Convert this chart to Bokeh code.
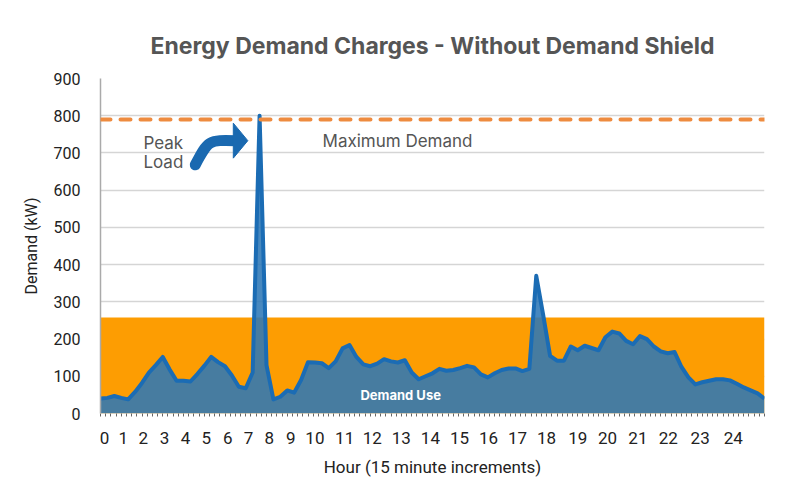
from bokeh.plotting import figure
from bokeh.models import Range1d, FixedTicker, Label, Span
from bokeh.embed import file_html
from bokeh.resources import INLINE
import numpy as np

# ---- data (15-minute intervals, 97 points) ----
demand_kw = [40, 42, 47, 42, 38, 58, 82, 110, 130, 152,
             118, 88, 88, 86, 106, 128, 152, 138, 127, 102,
             72, 68, 110, 800, 130, 38, 45, 62, 56, 90,
             138, 137, 135, 122, 140, 175, 184, 152, 132, 127,
             134, 146, 140, 137, 143, 110, 92, 100, 108, 120,
             115, 117, 122, 128, 124, 105, 97, 108, 117, 121,
             121, 114, 120, 370, 265, 155, 142, 142, 180, 170,
             182, 176, 170, 205, 220, 215, 195, 186, 208, 200,
             180, 167, 162, 165, 125, 97, 78, 84, 88, 92,
             92, 89, 80, 70, 62, 54, 40]
interval = list(range(len(demand_kw)))
demand_use_limit = 258
maximum_demand = 790
hour_labels = [str(h) for h in range(25)]
y_ticks = [0, 100, 200, 300, 400, 500, 600, 700, 800, 900]

# x tick positions (in interval units) where the hour labels sit
hour_label_pos = [0.6, 3.3, 6.2, 9.25, 12.3, 15.3, 18.4, 21.4, 24.4, 27.5,
                  31.0, 35.3, 39.3, 43.5, 47.7, 51.9, 56.1, 60.3, 64.5, 69.0,
                  73.3, 77.7, 82.1, 86.7, 91.5]

p = figure(width=800, height=500, output_backend="svg", toolbar_location=None,
           x_range=Range1d(0, len(demand_kw) - 1), y_range=Range1d(0, 900),
           min_border_left=100, min_border_right=36, min_border_top=78,
           min_border_bottom=87)
p.outline_line_color = None
p.background_fill_color = "white"

# title
p.title.text = "Energy Demand Charges - Without Demand Shield"
p.title.text_font = "Inter"
p.title.text_font_style = "bold"
p.title.text_font_size = "23px"
p.title.text_color = "#555555"
p.title.align = "center"
p.title.offset = -4
p.title.standoff = 37

# orange demand-use band
p.quad(left=[interval[0]], right=[interval[-1]], bottom=[0], top=[demand_use_limit],
       fill_color="#FD9D02", line_color=None)

# demand area and line
p.varea(x=interval, y1=[0] * len(demand_kw), y2=demand_kw,
        fill_color="#2D78B6", fill_alpha=0.88)
p.line(interval, demand_kw, line_color="#1B6CB4", line_width=4, line_join="round")

# maximum demand dashed line
p.add_layout(Span(location=maximum_demand, dimension="width", line_color="#EE8B3F",
                  line_width=4, line_dash="10 10", line_cap="round"))

# curved arrow
p.bezier(x0=[13.7], y0=[668], x1=[19.6], y1=[733], cx0=[15.6], cy0=[735],
         cx1=[15.6], cy1=[735], line_color="#1A69B0", line_width=11, line_cap="round")
p.patch([19.2, 21.3, 19.2], [780, 733, 686], fill_color="#1A69B0", line_color="#1A69B0")

# labels
p.add_layout(Label(x=6.2, y=728, text="Peak", text_font="Inter", text_font_size="17px",
                   text_color="#555555", text_baseline="middle"))
p.add_layout(Label(x=6.2, y=677, text="Load", text_font="Inter", text_font_size="17px",
                   text_color="#555555", text_baseline="middle"))
p.add_layout(Label(x=32.1, y=731, text="Maximum Demand", text_font="Inter",
                   text_font_size="17px", text_color="#555555", text_baseline="middle"))
p.add_layout(Label(x=43.4, y=51, text="Demand Use", text_font="Inter", text_font_style="bold",
                   text_font_size="13px", text_color="white", text_baseline="middle",
                   text_align="center"))

# grid
p.xgrid.grid_line_color = None
p.ygrid.grid_line_color = "#D5D5D5"
p.ygrid.grid_line_width = 1.5
p.ygrid.ticker = FixedTicker(ticks=y_ticks)

# y axis
p.yaxis.ticker = FixedTicker(ticks=y_ticks)
p.yaxis.axis_label = "Demand (kW)"
p.yaxis.axis_label_text_font = "Roboto"
p.yaxis.axis_label_text_font_style = "normal"
p.yaxis.axis_label_text_font_size = "16px"
p.yaxis.axis_label_text_color = "#222222"
p.yaxis.axis_label_standoff = 10
p.yaxis.major_label_text_font = "Roboto"
p.yaxis.major_label_text_font_size = "16px"
p.yaxis.major_label_text_color = "#222222"
p.yaxis.major_label_standoff = 14
p.yaxis.major_tick_line_color = None
p.yaxis.minor_tick_line_color = None
p.yaxis.axis_line_color = "#AAAAAA"
p.yaxis.axis_line_width = 1.5

# x axis
minor = list(np.arange(0, len(demand_kw), 0.75))
p.xaxis.ticker = FixedTicker(ticks=hour_label_pos, minor_ticks=minor)
p.xaxis.major_label_overrides = {pos: lab for pos, lab in zip(hour_label_pos, hour_labels)}
p.xaxis.axis_label = "Hour (15 minute increments)"
p.xaxis.axis_label_text_font = "Roboto"
p.xaxis.axis_label_text_font_style = "normal"
p.xaxis.axis_label_text_font_size = "17px"
p.xaxis.axis_label_text_color = "#222222"
p.xaxis.axis_label_standoff = 10
p.xaxis.major_label_text_font = "Roboto"
p.xaxis.major_label_text_font_size = "17px"
p.xaxis.major_label_text_color = "#222222"
p.xaxis.major_label_standoff = 12
p.xaxis.major_tick_line_color = None
p.xaxis.minor_tick_line_color = "#666666"
p.xaxis.minor_tick_in = 0
p.xaxis.minor_tick_out = 3
p.xaxis.axis_line_color = None

open("out.html", "w").write(file_html(p, INLINE))
